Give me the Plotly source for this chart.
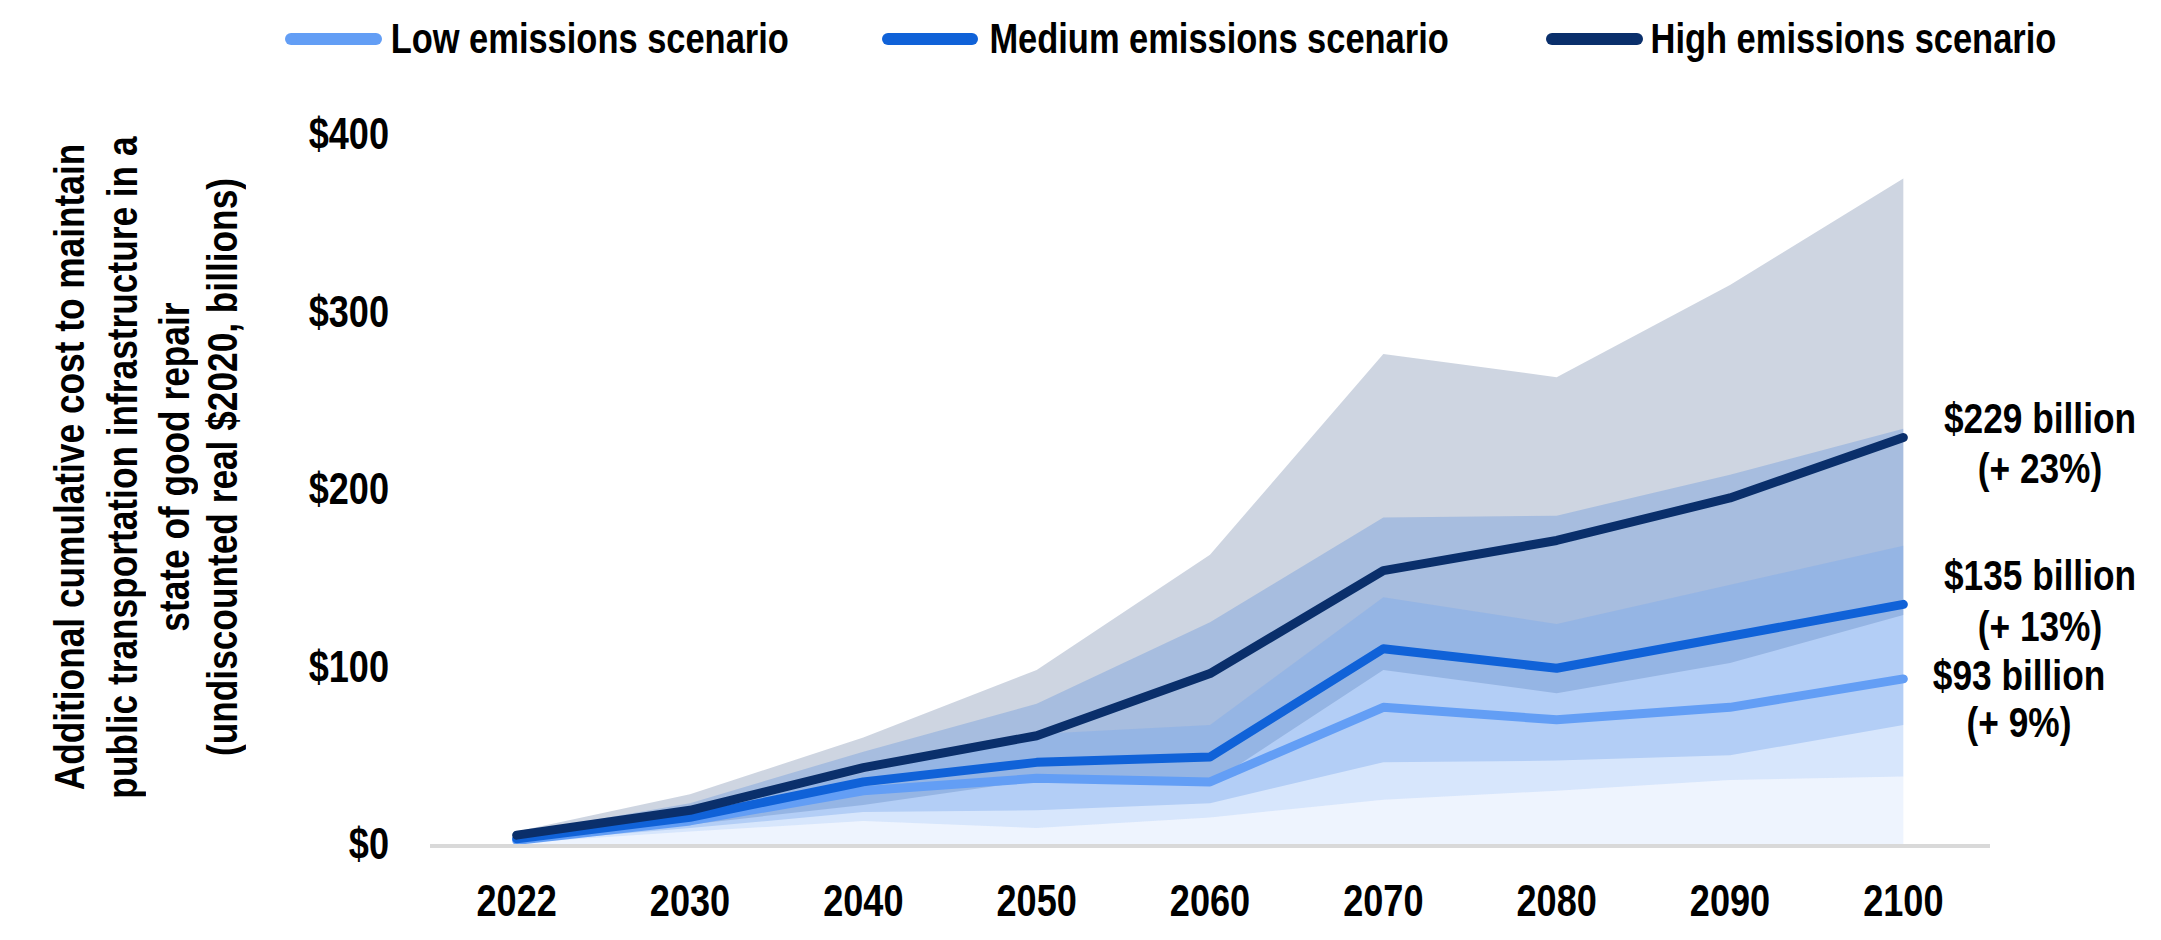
import plotly.graph_objects as go

# ---------------- data ----------------
years = ["2022", "2030", "2040", "2050", "2060", "2070", "2080", "2090", "2100"]

low_mid = [2, 13, 30, 37, 35, 77, 70, 77, 93]
med_mid = [3, 15, 35, 46, 49, 110, 99, 117, 135]
high_mid = [5, 19, 43, 61, 96, 154, 171, 195, 229]

high_upper = [7, 28, 60, 98, 163, 276, 263, 315, 375]
high_lower = [2, 11, 22, 36, 34, 98, 85, 102, 129]
med_upper = [6, 23, 52, 79, 125, 184, 185, 208, 234]
med_lower = [1, 9, 18, 19, 23, 46, 47, 50, 67]
low_upper = [5, 17, 40, 62, 67, 139, 124, 146, 168]
low_lower = [0.5, 7, 13, 9, 15, 25, 30, 36, 38]

series_names = ["Low emissions scenario", "Medium emissions scenario", "High emissions scenario"]
end_values = ["$93 billion", "$135 billion", "$229 billion"]
end_changes = ["(+ 9%)", "(+ 13%)", "(+ 23%)"]
y_tick_vals = [0, 100, 200, 300, 400]
y_tick_text = ["$0", "$100", "$200", "$300", "$400"]
y_title_lines = ["Additional cumulative cost to maintain",
                 "public transportation infrastructure in a",
                 "state of good repair",
                 "(undiscounted real $2020, billions)"]

# ---------------- style ----------------
FONT = "Liberation Sans, Arial, sans-serif"
C_LOW, C_MED, C_HIGH = "#639EF5", "#1062D8", "#0A2F6B"
F_HIGH = "rgba(11,47,107,0.20)"
F_MED = "rgba(16,96,216,0.20)"
F_LOW = "rgba(99,158,245,0.26)"
F_FLOOR = "rgba(99,158,245,0.11)"

W, H = 2161, 940
ML, MR, MT, MB = 430, 171, 134, 96
pw = W - ML - MR
ph = H - MT - MB


def px_x(p):
    return (p - ML) / pw


def px_y(p):
    return (H - MB - p) / ph


def tfont(size):
    return dict(family=FONT, size=size, color="#000000", weight="bold")


fig = go.Figure()


def band(lower, upper, color):
    fig.add_trace(go.Scatter(x=years, y=lower, mode="lines", line=dict(width=0, color=color),
                             hoverinfo="skip", showlegend=False))
    fig.add_trace(go.Scatter(x=years, y=upper, mode="lines", line=dict(width=0, color=color),
                             fill="tonexty", fillcolor=color, hoverinfo="skip", showlegend=False))


# floor (0 -> low lower bound)
fig.add_trace(go.Scatter(x=years, y=low_lower, mode="lines", line=dict(width=0),
                         fill="tozeroy", fillcolor=F_FLOOR, hoverinfo="skip", showlegend=False))
band(high_lower, high_upper, F_HIGH)
band(med_lower, med_upper, F_MED)
band(low_lower, low_upper, F_LOW)

for vals, col, name in [(low_mid, C_LOW, series_names[0]),
                        (med_mid, C_MED, series_names[1]),
                        (high_mid, C_HIGH, series_names[2])]:
    fig.add_trace(go.Scatter(x=years, y=vals, mode="lines", name=name,
                             line=dict(color=col, width=9), showlegend=False))

ann = []
last = len(years) - 1  # category index of the last year
# end labels (two lines each, centred block to the right of the last point)
for vals, v_txt, c_txt, dx, dy1, dy2 in [(low_mid, end_values[0], end_changes[0], 116, 4, -43),
                                         (med_mid, end_values[1], end_changes[1], 137, 29, -22),
                                         (high_mid, end_values[2], end_changes[2], 137, 20, -30)]:
    for txt, dy in [(v_txt, dy1), (c_txt, dy2)]:
        ann.append(dict(x=last, y=vals[-1], xref="x", yref="y", text=txt, showarrow=False,
                        width=200, xanchor="center", yanchor="middle", xshift=dx, yshift=dy,
                        font=tfont(43)))

# y axis title (rotated, four lines)
for line, xc in zip(y_title_lines, [69, 122, 174, 222]):
    ann.append(dict(x=px_x(xc), y=px_y(467), xref="paper", yref="paper", text=line, showarrow=False,
                    width=720, textangle=-90, xanchor="center", yanchor="middle", font=tfont(43)))

# manual legend with wide rounded line samples
shapes = []
legend_pos = [(285, 382, 590), (882, 978, 1219), (1546, 1643, 1853)]
ly = px_y(39)
for (x0, x1, xt), col, name in zip(legend_pos, [C_LOW, C_MED, C_HIGH], series_names):
    shapes.append(dict(type="line", xref="paper", yref="paper", x0=px_x(x0 + 6), x1=px_x(x1 - 6),
                       y0=ly, y1=ly, line=dict(color=col, width=12)))
    for xc in (x0 + 6, x1 - 6):
        shapes.append(dict(type="circle", xref="paper", yref="paper", xsizemode="pixel", ysizemode="pixel",
                           xanchor=px_x(xc), yanchor=ly, x0=-6, x1=6, y0=-6, y1=6,
                           fillcolor=col, line=dict(width=0)))
    ann.append(dict(x=px_x(xt), y=ly, xref="paper", yref="paper", text=name, showarrow=False,
                    xanchor="center", yanchor="middle", font=tfont(42)))

fig.update_layout(
    width=W, height=H,
    margin=dict(l=ML, r=MR, t=MT, b=MB, pad=0, autoexpand=False),
    paper_bgcolor="white", plot_bgcolor="white",
    showlegend=False,
    annotations=ann, shapes=shapes,
    xaxis=dict(type="category", range=[-0.5, 8.5], showgrid=False, zeroline=False, automargin=False,
               showline=True, linecolor="#D9D9D9", linewidth=4,
               ticks="", ticklabelstandoff=15, tickfont=tfont(44)),
    yaxis=dict(range=[0, 400], tickvals=y_tick_vals, ticktext=y_tick_text, automargin=False,
               showgrid=False, zeroline=False, showline=False, ticks="",
               ticklabelstandoff=40, tickfont=tfont(44)),
)

# Arial-Narrow look: compress the glyphs of every label horizontally (text stays real text);
# round line caps like the original
post = """
document.body.style.margin='0';
document.body.style.overflow='hidden';
try {
  var gd = document.querySelector('.plotly-graph-div');
  var f = 0.82;
  function squeeze(el){
    var L = el.getComputedTextLength();
    if (L > 0) { el.setAttribute('textLength', (L*f).toFixed(2)); el.setAttribute('lengthAdjust','spacingAndGlyphs'); }
  }
  gd.querySelectorAll('svg.main-svg text').forEach(function(t){
    var lines = t.querySelectorAll('tspan.line');
    if (lines.length) { lines.forEach(squeeze); } else { squeeze(t); }
  });
  gd.querySelectorAll('.scatterlayer .js-line').forEach(function(p){
    p.style.strokeLinecap = 'round'; p.style.strokeLinejoin = 'round';
  });
} catch(e) {}
"""

fig.write_html("out.html", config={"displayModeBar": False}, post_script=post)
